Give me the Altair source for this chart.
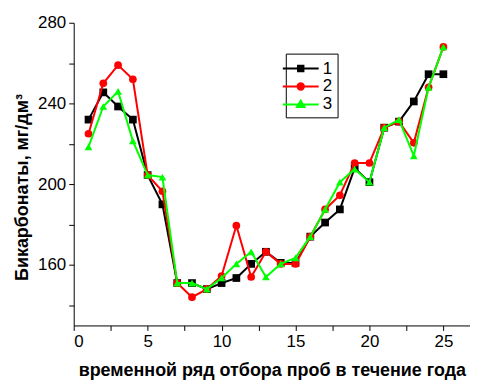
import altair as alt
import pandas as pd

x_vals = list(range(1, 26))
series_names = ["1", "2", "3"]
s1 = [232, 245.5, 238.5, 232, 204.5, 190, 151, 151, 148, 151, 153.5, 160.5, 166.5,
      161, 161, 174, 181, 187.5, 208, 201, 228, 231, 241, 254.5, 254.5]
s2 = [225, 250, 259, 252, 204.5, 196.5, 151, 144, 148, 154.5, 179.5, 154, 166.5,
      160.5, 160.5, 174, 187.5, 194.5, 210.5, 210.5, 228, 231, 220.5, 248, 268]
s3 = [218.5, 238.5, 246, 221.5, 204.5, 203.5, 151, 151, 148, 153.5, 160.5, 166.5, 154,
      160.5, 163.5, 174, 187.5, 201, 207.5, 201, 228, 232, 214, 248, 268]
colors = ["#000000", "#ff0000", "#00ff00"]
shapes = ["square", "circle", "triangle-up"]
# legend symbols: a short line segment through the marker
legend_shapes = [
    "M-2,0H2M-0.3,-0.3H0.3V0.3H-0.3Z",
    "M-2,0H2M0.36,0A0.36,0.36 0 1,1 -0.36,0A0.36,0.36 0 1,1 0.36,0Z",
    "M-2,0H2M0,-0.42L0.42,0.3L-0.42,0.3Z",
]
x_ticks = [0, 2.5, 5, 7.5, 10, 12.5, 15, 17.5, 20, 22.5, 25]
y_ticks = [140, 160, 180, 200, 220, 240, 260, 280]

rows = []
for name, vals in zip(series_names, [s1, s2, s3]):
    for xv, yv in zip(x_vals, vals):
        rows.append({"x": xv, "y": yv, "series": name})
df = pd.DataFrame(rows)

FONT = "Liberation Sans"

xenc = alt.X("x:Q", scale=alt.Scale(domain=[0, 26.8], nice=False),
             axis=alt.Axis(values=x_ticks, labelExpr="datum.value % 5 == 0 ? datum.label : ''",
                           title="временной ряд отбора проб в течение года", grid=False,
                           titleX=199))
yenc = alt.Y("y:Q", scale=alt.Scale(domain=[130, 280], nice=False, zero=False),
             axis=alt.Axis(values=y_ticks, labelExpr="datum.value % 40 == 0 ? datum.label : ''",
                           title="Бикарбонаты, мг/дм³", grid=False, titleY=165))
color = alt.Color("series:N", scale=alt.Scale(domain=series_names, range=colors), legend=None)

base = alt.Chart(df)

leg = alt.Legend(title="", orient="none", legendX=213, legendY=31,
                 strokeColor="#000000", padding=5, labelFontSize=17, labelFont=FONT,
                 symbolSize=324, rowPadding=0, labelOffset=12, symbolStrokeWidth=2)
legend_layer = base.mark_point(filled=True, opacity=1).encode(
    x=xenc, y=yenc, size=alt.value(1),
    fill=alt.Fill("series:N", scale=alt.Scale(domain=series_names, range=colors), legend=leg),
    stroke=alt.Stroke("series:N", scale=alt.Scale(domain=series_names, range=colors), legend=leg),
    shape=alt.Shape("series:N", scale=alt.Scale(domain=series_names, range=legend_shapes), legend=leg),
)
layers = [legend_layer]
for name, shp in zip(series_names, shapes):
    sub = base.transform_filter(alt.datum.series == name)
    layers.append(sub.mark_line(strokeWidth=2).encode(x=xenc, y=yenc, color=color, order="x:Q"))
    layers.append(sub.mark_point(filled=True, size=60, opacity=1, shape=shp).encode(
        x=xenc, y=yenc, color=color))

chart = alt.layer(*layers).properties(
    width=398, height=304,
    padding={"left": 5, "top": 5, "right": 0, "bottom": 5},
).configure_view(
    stroke=None
).configure_axis(
    domainColor="#000000", tickColor="#000000", labelColor="#000000", titleColor="#000000",
    labelFont=FONT, titleFont=FONT, labelFontSize=17, titleFontWeight="bold",
    tickSize=5, domainWidth=1, labelPadding=3
).configure_axisY(titlePadding=6, titleFontSize=18).configure_axisX(titlePadding=12, titleFontSize=18)

chart.save("out.html", embed_options={"renderer": "svg", "actions": False})
